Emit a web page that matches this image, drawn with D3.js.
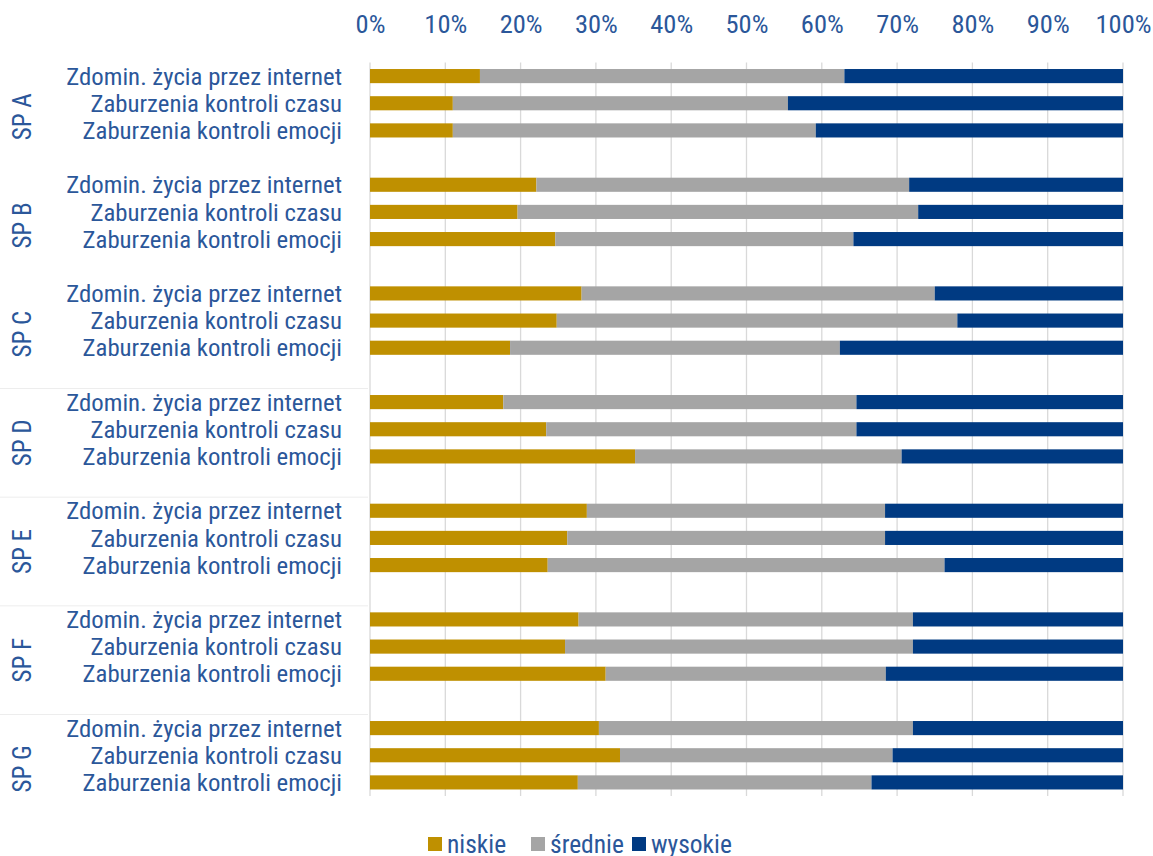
<!DOCTYPE html>
<html>
<head>
<meta charset="utf-8">
<script src="https://cdn.jsdelivr.net/npm/d3@7"></script>
<style>
    body { margin: 0; background: #fff; }
    text { font-family: "Roboto Condensed", "Liberation Sans Narrow", "DejaVu Sans Condensed", sans-serif; }
</style>
</head>
<body>
<svg id="chart" width="1153" height="856"></svg>
<script>
// groups and their row labels
var groups = ["SP A", "SP B", "SP C", "SP D", "SP E", "SP F", "SP G"],
    rows = ["Zdomin. życia przez internet", "Zaburzenia kontroli czasu", "Zaburzenia kontroli emocji"],
    series = ["niskie", "średnie", "wysokie"],
    colors = ["#bf9000", "#a5a5a5", "#003a82"],
    ticks = [0, 0.1, 0.2, 0.3, 0.4, 0.5, 0.6, 0.7, 0.8, 0.9, 1];

// share per row, in % (group order A..G, row order as above)
var niskie = [
    14.6, 11.0, 11.0,
    22.1, 19.6, 24.6,
    28.1, 24.8, 18.6,
    17.7, 23.4, 35.2,
    28.8, 26.2, 23.6,
    27.7, 25.9, 31.3,
    30.4, 33.2, 27.6
];
var srednie = [
    48.4, 44.5, 48.2,
    49.5, 53.2, 39.6,
    46.9, 53.2, 43.8,
    46.9, 41.2, 35.4,
    39.6, 42.2, 52.7,
    44.4, 46.2, 37.2,
    41.7, 36.2, 39.0
];
var wysokie = [
    37.0, 44.5, 40.8,
    28.4, 27.2, 35.8,
    25.0, 22.0, 37.6,
    35.4, 35.4, 29.4,
    31.6, 31.6, 23.7,
    27.9, 27.9, 31.5,
    27.9, 30.6, 33.4
];

var svg = d3.select("#chart"),
    textColor = "#2b579a",
    plotLeft = 370,
    plotRight = 1123,
    plotTop = 62.5,
    plotBottom = 796;

// one slot per row plus one spacer after each group (not after the last)
var slots = [];
groups.forEach(function (g, gi) {
    rows.forEach(function (r, ri) { slots.push(gi + "-" + ri); });
    if (gi < groups.length - 1) { slots.push(gi + "-gap"); }
});

var x = d3.scaleLinear().domain([0, 1]).range([plotLeft, plotRight]);
var y = d3.scaleBand().domain(slots).range([plotTop, plotBottom]).paddingInner(0.48).paddingOuter(0.24);
var slotStep = y.step();

// stack data
var table = [];
groups.forEach(function (g, gi) {
    rows.forEach(function (r, ri) {
        var i = gi * 3 + ri;
        table.push({key: gi + "-" + ri, group: g, row: r, "niskie": niskie[i], "średnie": srednie[i], "wysokie": wysokie[i]});
    });
});
table.forEach(function (d) {
    var s = d["niskie"] + d["średnie"] + d["wysokie"];
    series.forEach(function (k) { d[k] = d[k] / s; });
});
var stacked = d3.stack().keys(series)(table);

// gridlines
svg.append("g")
    .selectAll("line")
    .data(ticks)
    .enter().append("line")
        .attr("x1", function (d) { return x(d); })
        .attr("x2", function (d) { return x(d); })
        .attr("y1", plotTop)
        .attr("y2", plotBottom)
        .attr("stroke", "#d9d9d9")
        .attr("stroke-width", 1.3);

// top axis labels
var xAxis = d3.axisTop(x).tickValues(ticks).tickFormat(d3.format(".0%")).tickSize(0).tickPadding(0);
var axisG = svg.append("g")
    .attr("transform", "translate(0,33)")
    .call(xAxis);
axisG.select(".domain").remove();
axisG.selectAll("text")
    .attr("fill", textColor)
    .attr("font-size", 26.5);

// faint group separators on the left
svg.append("g")
    .selectAll("line")
    .data(groups.slice(3))
    .enter().append("line")
        .attr("x1", 0)
        .attr("x2", plotLeft - 2)
        .attr("y1", function (d, i) { return y((i + 2) + "-gap") + y.bandwidth() / 2 + slotStep / 2; })
        .attr("y2", function (d, i) { return y((i + 2) + "-gap") + y.bandwidth() / 2 + slotStep / 2; })
        .attr("stroke", "#ededed")
        .attr("stroke-width", 1);

// bars
svg.append("g")
    .selectAll("g")
    .data(stacked)
    .enter().append("g")
        .attr("fill", function (d, i) { return colors[i]; })
    .selectAll("rect")
    .data(function (d) { return d; })
    .enter().append("rect")
        .attr("x", function (d) { return x(d[0]); })
        .attr("width", function (d) { return x(d[1]) - x(d[0]); })
        .attr("y", function (d) { return y(d.data.key); })
        .attr("height", y.bandwidth());

// row labels
svg.append("g")
    .selectAll("text")
    .data(table)
    .enter().append("text")
        .attr("x", 342)
        .attr("y", function (d) { return y(d.key) + y.bandwidth() / 2; })
        .attr("dy", "0.35em")
        .attr("text-anchor", "end")
        .attr("fill", textColor)
        .attr("font-size", 24.8)
        .text(function (d) { return d.row; });

// group labels (rotated), centred on the group incl. its spacer slot
svg.append("g")
    .selectAll("text")
    .data(groups)
    .enter().append("text")
        .attr("transform", function (d, gi) {
            var cy = y(gi + "-1") + y.bandwidth() / 2 + slotStep / 2;
            return "translate(22," + cy + ") rotate(-90)";
        })
        .attr("dy", "0.35em")
        .attr("text-anchor", "middle")
        .attr("fill", textColor)
        .attr("font-size", 25)
        .text(function (d) { return d; });

// legend
var legendX = [428, 531, 632];
var legend = svg.append("g")
    .selectAll("g")
    .data(series)
    .enter().append("g")
        .attr("transform", function (d, i) { return "translate(" + legendX[i] + ",837)"; });
legend.append("rect")
    .attr("width", 14)
    .attr("height", 14)
    .attr("fill", function (d, i) { return colors[i]; });
legend.append("text")
    .attr("x", 19)
    .attr("y", 7)
    .attr("dy", "0.35em")
    .attr("fill", textColor)
    .attr("font-size", 25.5)
    .text(function (d) { return d; });
</script>
</body>
</html>
